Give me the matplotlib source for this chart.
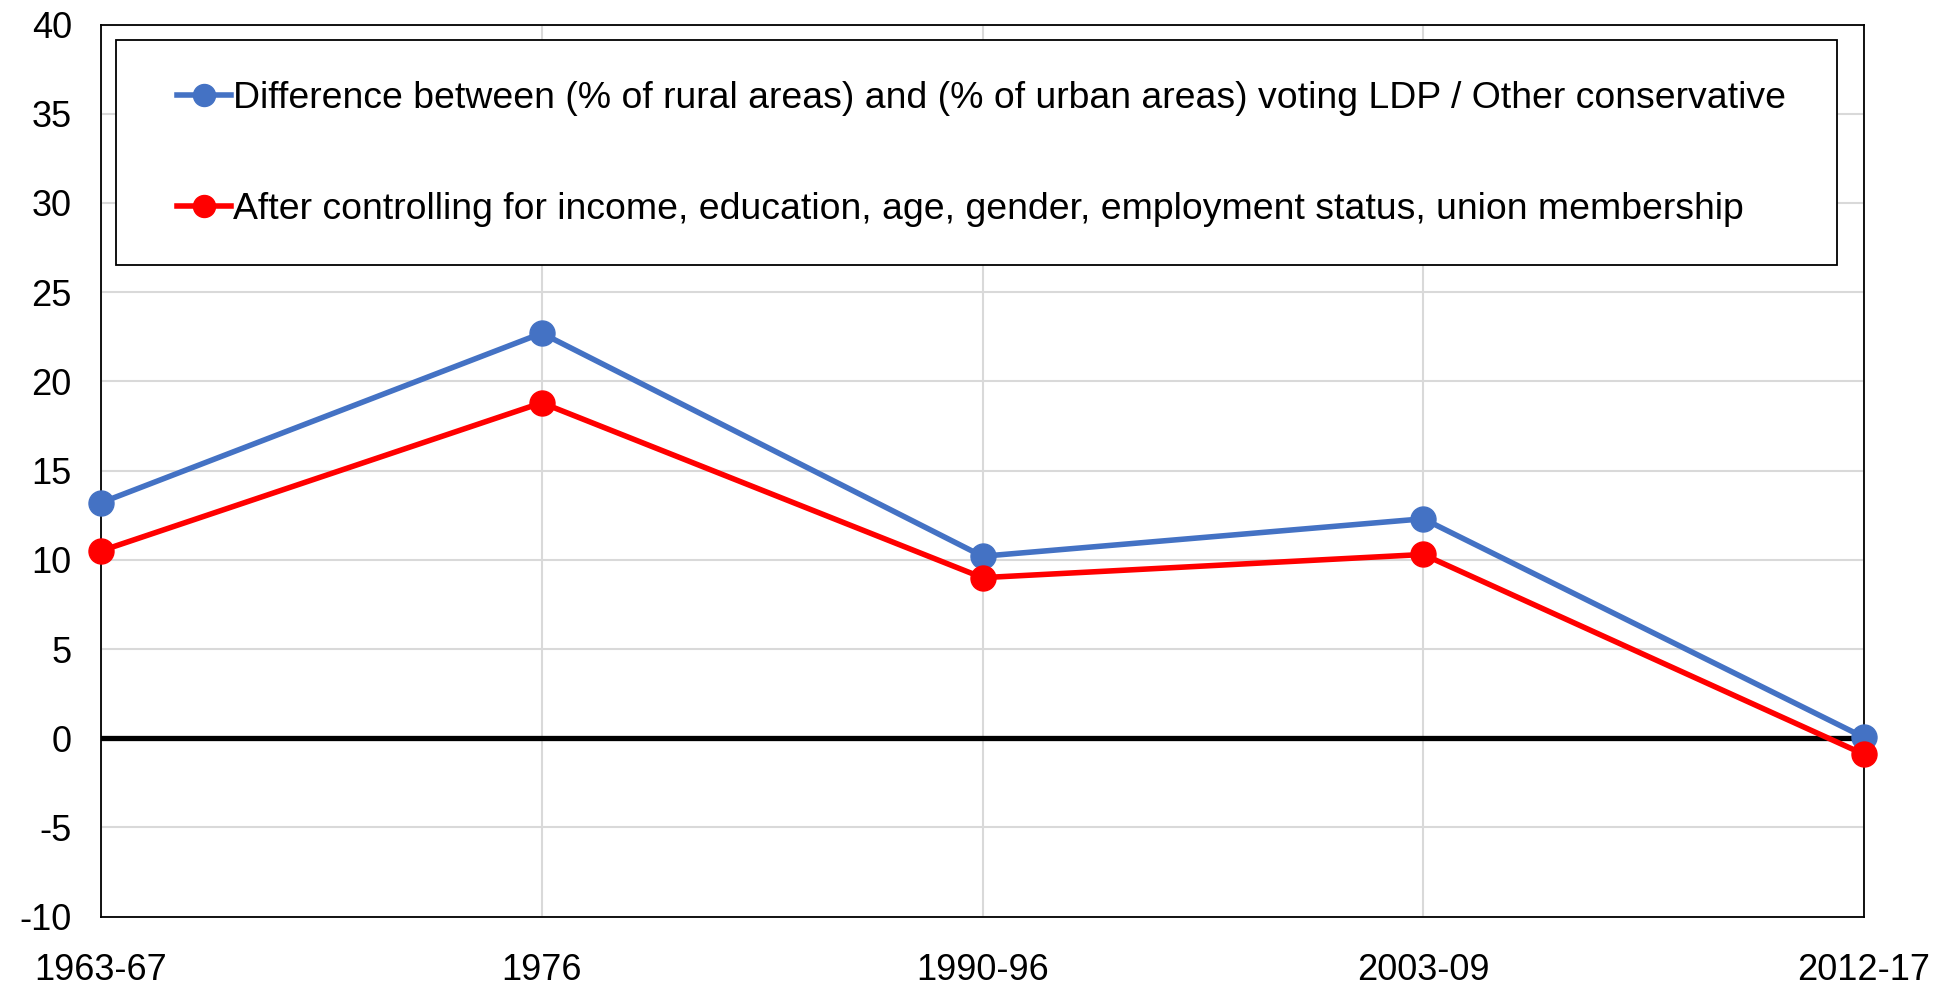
import matplotlib
matplotlib.use("Agg")
import matplotlib.pyplot as plt
from matplotlib.patches import Rectangle

categories = ["1963-67", "1976", "1990-96", "2003-09", "2012-17"]
rural_urban_diff = [13.2, 22.7, 10.2, 12.3, 0.05]
after_controls = [10.5, 18.8, 9.0, 10.3, -0.9]
label_diff = "Difference between (% of rural areas) and (% of urban areas) voting LDP / Other conservative"
label_ctrl = "After controlling for income, education, age, gender, employment status, union membership"
yticks = list(range(-10, 41, 5))

plt.rcParams['font.family'] = ['Liberation Sans', 'DejaVu Sans']
plt.rcParams['axes.unicode_minus'] = False

W, H = 1953, 989
fig = plt.figure(figsize=(W / 100, H / 100), dpi=100)
ax = fig.add_axes([101 / W, 1 - 916.7 / H, (1864 - 101) / W, (916.7 - 24.5) / H])

x = list(range(len(categories)))
ax.plot(x, rural_urban_diff, color="#4472C4", lw=4.0, marker="o", ms=18,
        label=label_diff, zorder=4, clip_on=False)
ax.plot(x, after_controls, color="#FF0000", lw=4.0, marker="o", ms=18,
        label=label_ctrl, zorder=5, clip_on=False)
ax.axhline(0, color="black", lw=3.8, zorder=3)

ax.set_xlim(0, len(categories) - 1)
ax.set_ylim(-10, 40)
ax.set_yticks(yticks)
ax.set_xticks(x)
ax.set_xticklabels(categories)
ax.tick_params(axis="both", length=0, labelsize=26)
ax.tick_params(axis="x", pad=26)
ax.tick_params(axis="y", pad=21)
ax.grid(True, color="#D9D9D9", lw=1.5, zorder=0)
ax.set_axisbelow(True)
for s in ax.spines.values():
    s.set_color("black")
    s.set_linewidth(1.3)

# legend frame
frame = Rectangle((115.7 / W, 1 - 265 / H), (1837 - 115.7) / W, (265 - 40) / H,
                  transform=fig.transFigure, facecolor="white",
                  edgecolor="black", lw=1.3, zorder=6, clip_on=False)
ax.add_patch(frame)
leg = ax.legend(loc="upper left",
                bbox_to_anchor=(177 / W, 1 - 81.5 / H),
                bbox_transform=fig.transFigure,
                fontsize=26.9, frameon=False, borderpad=0, labelspacing=2.03,
                handlelength=1.45, handletextpad=0.05, borderaxespad=0,
                markerscale=0.88)
leg.set_zorder(7)

fig.savefig("out.png", dpi=100)
